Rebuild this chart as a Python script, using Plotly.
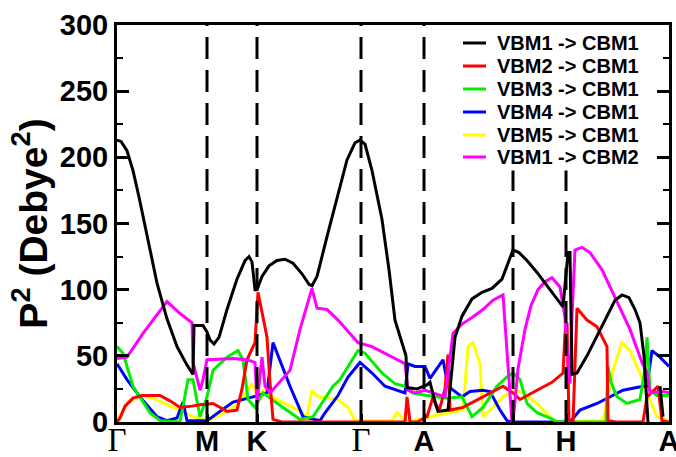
import plotly.graph_objects as go

# High-symmetry path positions (k-path distance units) and labels
kpoints = [0, 90, 140, 244, 307, 396, 449, 552]
klabels = ["Γ", "M", "K", "Γ", "A", "L", "H", "A"]

names = ["VBM1 -> CBM1", "VBM2 -> CBM1", "VBM3 -> CBM1",
         "VBM4 -> CBM1", "VBM5 -> CBM1", "VBM1 -> CBM2"]
colors = ["#000000", "#ff0000", "#00ee00", "#0000ff", "#ffff00", "#ff00ff"]

# VBM1 -> CBM1 (black)
k_black = [0, 4, 10, 16, 22, 30, 40, 50, 60, 70, 76, 77, 86, 90, 93, 97, 102, 110, 120, 128,
           132, 135, 138, 140, 145, 152, 160, 168, 176, 185, 192, 195, 200, 210, 220, 230,
           238, 243, 248, 255, 265, 272, 278, 285, 289, 290, 300, 310, 313, 318, 321, 331,
           335, 338, 345, 355, 365, 375, 385, 392, 396, 402, 410, 420, 430, 443, 446, 451,
           453, 455, 460, 470, 480, 490, 498, 505, 512, 518, 523, 527, 529, 531,
           None, 543, 546]
p_black = [213, 212, 205, 190, 170, 140, 105, 78, 57, 43, 36, 73, 73, 68, 62, 59, 64, 85, 108, 122,
           125, 121, 100, 100, 110, 118, 122, 123, 120, 112, 104, 103, 110, 140, 170, 198,
           211, 213, 210, 190, 153, 115, 77, 60, 50, 26, 25, 28, 30, 15, 8, 9,
           40, 64, 80, 93, 98, 101, 108, 122, 130, 128, 122, 113, 103, 90, 87, 128,
           128, 36, 37, 50, 65, 80, 92, 96, 94, 85, 75, 50, 20, 0,
           None, 27, 4]

# VBM2 -> CBM1 (red)
k_red = [0, 3, 8, 16, 25, 43, 53, 63, 75, 83, 96, 103, 110, 120, 125, 130, 138, 141, 145, 150,
         153, 156, 165, 285, 288, 290, 293, 300, 310, 316, 322, 328, 331, 333, 346, 356, 373,
         386, 396, 403, 420, 435, 446, 448, 450, 452, 456, 460, 470, 480, 490, 491, 500, 526,
         530, 541, 545, 552]
p_red = [0, 3, 12, 18, 20, 20, 16, 11, 12, 13, 14, 11, 8, 9, 25, 47, 60, 98, 82, 64,
         30, 2, 0, 0, 0, 19, 0, 0, 4, 19, 8, 25, 51, 9, 11, 15, 22,
         27, 22, 17, 24, 30, 37, 67, 75, 0, 0, 86, 77, 72, 57, 1, 0, 0,
         19, 27, 1, 0]

# VBM3 -> CBM1 (green)
k_green = [0, 6, 16, 33, 43, 63, 68, 71, 76, 83, 90, 96, 110, 121, 126, 131, 138, 146, 166,
           183, 196, 216, 223, 231, 241, 248, 265, 278, 288, 295, 310, 330, 345, 355, 366, 380,
           390, 396, 403, 410, 420, 433, 440, 489, 491, 494, 500, 510, 523, 528, 530, 533,
           540, 552]
p_green = [57, 52, 27, 7, 1, 0, 20, 32, 32, 4, 19, 39, 49, 54, 47, 17, 11, 22, 11,
           2, 4, 27, 32, 42, 54, 52, 37, 29, 27, 22, 20, 18, 19, 4, 11, 27,
           34, 37, 32, 14, 7, 3, 0, 0, 42, 30, 19, 14, 17, 40, 64, 24,
           20, 20]

# VBM4 -> CBM1 (blue)
k_blue = [0, 10, 23, 40, 50, 60, 66, 70, 90, 116, 136, 150, 156, 173, 186, 203, 208, 221,
          231, 243, 255, 268, 288, 291, 298, 308, 313, 326, 331, 345, 353, 366, 373, 383,
          390, 395, 453, 463, 480, 506, 526, 530, 535, 543, 552]
p_blue = [44, 32, 19, 4, 1, 3, 15, 1, 1, 15, 19, 22, 60, 27, 4, 1, 7, 20,
          34, 45, 37, 27, 22, 44, 42, 42, 33, 47, 27, 19, 23, 24, 23, 9,
          1, 0, 0, 9, 14, 24, 27, 27, 54, 49, 42]

# VBM5 -> CBM1 (yellow)
k_yellow = [0, 10, 23, 36, 56, 76, 90, 103, 120, 135, 141, 146, 155, 168, 181, 190, 195,
            201, 221, 231, 238, 275, 280, 288, 296, 313, 346, 351, 356, 363, 366, 376, 386,
            396, 406, 420, 433, 440, 486, 496, 505, 513, 523, 530, 540, 552]
p_yellow = [1, 14, 20, 18, 11, 4, 1, 5, 13, 29, 19, 24, 19, 14, 9, 4, 24,
            19, 17, 11, 1, 1, 7, 1, 1, 4, 9, 57, 60, 44, 4, 11, 19,
            24, 22, 14, 4, 0, 1, 39, 60, 54, 37, 22, 4, 1]

# VBM1 -> CBM2 (magenta)
k_magenta = [0, 10, 26, 50, 63, 75, 76, 83, 86, 90, 116, 130, 138, 140, 145, 148, 153, 173,
             183, 195, 200, 210, 221, 241, 255, 288, 291, 298, 308, 328, 336, 345, 355, 366,
             376, 386, 395, 396, 401, 408, 414, 421, 428, 435, 443, 448, 450, 453, 455, 458,
             465, 473, 485, 490, 500, 513, 525, 530, 533, 546, 552]
p_magenta = [48, 49, 67, 91, 82, 75, 45, 24, 32, 47, 48, 47, 45, 14, 49, 27, 22, 39,
             70, 101, 86, 85, 77, 60, 57, 44, 24, 22, 24, 19, 67, 74, 79, 85,
             92, 96, 0, 0, 40, 70, 88, 100, 106, 109, 102, 79, 57, 29, 80, 130,
             132, 128, 115, 107, 90, 70, 45, 37, 22, 23, 22]

series_k = [k_black, k_red, k_green, k_blue, k_yellow, k_magenta]
series_p = [p_black, p_red, p_green, p_blue, p_yellow, p_magenta]

# Plot-area geometry (px) used to place the hand-built legend
L, R, T, B = 117, 669, 25, 422
W, H = R - L, B - T


def px_x(px):
    return (px - L) / W


def px_y(py):
    return (B - py) / H


fig = go.Figure()
draw_order = [4, 3, 2, 1, 5, 0]
for i in draw_order:
    fig.add_trace(go.Scatter(
        x=series_k[i], y=series_p[i], mode="lines", name=names[i],
        line=dict(color=colors[i], width=3), connectgaps=False, showlegend=False))

# vertical dashed lines at high-symmetry points (L and H stop below the legend)
dash_top = {396: 190, 449: 190}
for kp in kpoints[1:-1]:
    fig.add_shape(type="line", xref="x", yref="y", x0=kp, x1=kp, y0=0,
                  y1=dash_top.get(kp, 300),
                  line=dict(color="black", width=3, dash="22px,11px"), layer="above")

# legend (line samples + labels)
leg_y = [43, 66, 89, 112, 135, 157]
for i, nm in enumerate(names):
    yy = px_y(leg_y[i])
    fig.add_shape(type="line", xref="paper", yref="paper",
                  x0=px_x(463), x1=px_x(486), y0=yy, y1=yy,
                  line=dict(color=colors[i], width=3))
    fig.add_annotation(xref="paper", yref="paper", x=px_x(495), y=yy,
                       xanchor="left", yanchor="middle", showarrow=False,
                       text=nm, font=dict(size=20, family="Liberation Sans, Arial",
                                          weight="bold", color="black"))

ticktext = []
for lab in klabels:
    if lab == "Γ":
        ticktext.append('<span style="font-family:Liberation Serif;font-weight:normal;font-size:33px">Γ</span>')
    else:
        ticktext.append(lab)

fig.update_layout(
    width=676, height=457,
    margin=dict(l=117, r=676 - R, t=T, b=457 - B),
    paper_bgcolor="white", plot_bgcolor="white",
    font=dict(family="Liberation Sans, Arial", color="black"),
    showlegend=False,
    xaxis=dict(range=[0, 552], tickvals=kpoints, ticktext=ticktext,
               automargin=False, ticklabeloverflow="allow",
               showgrid=False, zeroline=False, showline=True, linecolor="black",
               linewidth=3, mirror=True, ticks="inside", ticklen=8, tickwidth=3,
               tickcolor="black", ticklabelstandoff=-9,
               tickfont=dict(size=29, family="Liberation Sans, Arial", weight="bold")),
    yaxis=dict(range=[0, 300], tickvals=[0, 50, 100, 150, 200, 250, 300],
               automargin=False,
               showgrid=False, zeroline=False, showline=True, linecolor="black",
               linewidth=3, mirror="ticks", ticks="inside", ticklen=12, tickwidth=3,
               tickcolor="black",
               minor=dict(dtick=25, ticks="inside", ticklen=6, tickwidth=2, tickcolor="black"),
               tickfont=dict(size=29, family="Liberation Sans, Arial", weight="bold"),
               title=dict(text="P<sup>2</sup> (Debye<sup>2</sup>)", standoff=1,
                          font=dict(size=39, family="Liberation Sans, Arial", weight="bold"))),
)

fig.write_html("out.html")
